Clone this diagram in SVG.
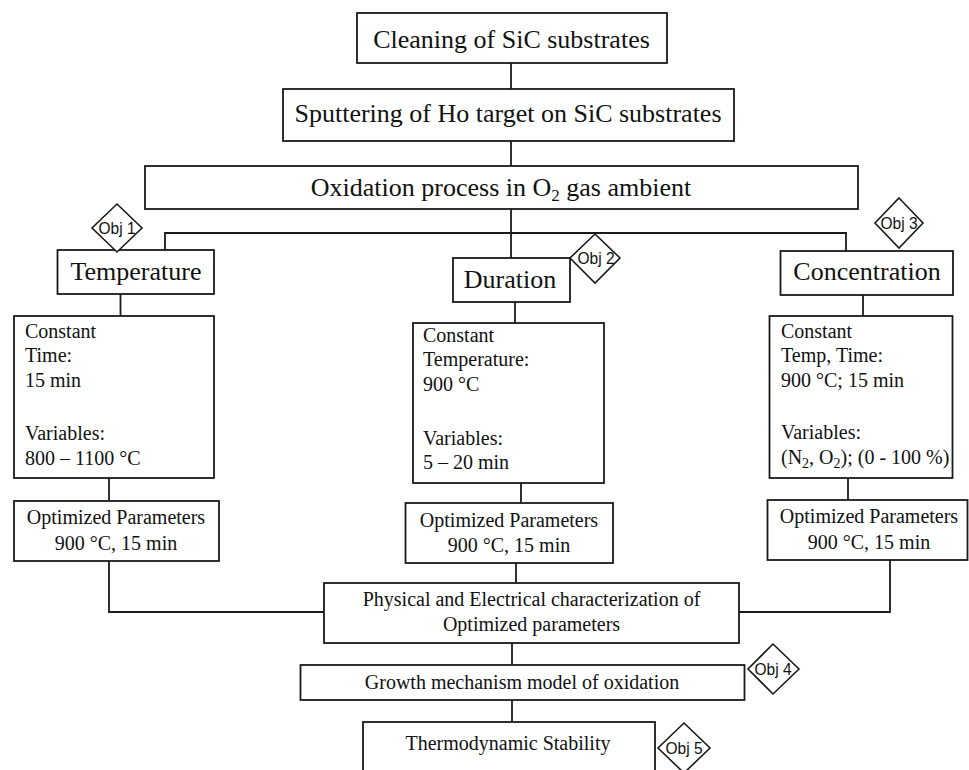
<svg xmlns="http://www.w3.org/2000/svg" width="969" height="770" viewBox="0 0 969 770">
  <style>
    .box { fill: #ffffff; stroke: #1a1a1a; stroke-width: 1.8; }
    .obj { fill: #ffffff; stroke: #1a1a1a; stroke-width: 1.6; }
    .wire { fill: none; stroke: #1a1a1a; stroke-width: 1.8; }
    .head { font-family: "Liberation Serif", "Times New Roman", serif; font-size: 26px; fill: #111; text-anchor: middle; }
    .body { font-family: "Liberation Serif", "Times New Roman", serif; font-size: 20px; fill: #111; }
    .mid { text-anchor: middle; }
    .tag { font-family: "Liberation Sans", Arial, sans-serif; font-size: 16px; fill: #111; text-anchor: middle; }
  </style>

  <rect width="969" height="770" fill="#ffffff"/>

  <!-- connectors -->
  <g id="connectors">
    <line class="wire" x1="511" y1="63" x2="511" y2="89"/>
    <line class="wire" x1="511" y1="141" x2="511" y2="166"/>
    <line class="wire" x1="511" y1="209" x2="511" y2="258"/>
    <polyline class="wire" points="165,250 165,233 846,233 846,251"/>
    <line class="wire" x1="120.5" y1="294" x2="120.5" y2="316"/>
    <line class="wire" x1="109" y1="478" x2="109" y2="501"/>
    <line class="wire" x1="515" y1="302" x2="515" y2="323"/>
    <line class="wire" x1="521" y1="483" x2="521" y2="503"/>
    <line class="wire" x1="863" y1="295" x2="863" y2="316"/>
    <line class="wire" x1="848" y1="478" x2="848" y2="500"/>
    <polyline class="wire" points="109,561 109,612 324,612"/>
    <polyline class="wire" points="890,560 890,612 739,612"/>
    <line class="wire" x1="516" y1="563" x2="516" y2="583"/>
    <line class="wire" x1="512" y1="643" x2="512" y2="665"/>
    <line class="wire" x1="512" y1="700" x2="512" y2="722"/>
  </g>

  <!-- main process chain -->
  <g id="cleaning">
    <rect class="box" x="357" y="13" width="310" height="50"/>
    <text class="head" x="511.5" y="48">Cleaning of SiC substrates</text>
  </g>
  <g id="sputtering">
    <rect class="box" x="283" y="89" width="451" height="52"/>
    <text class="head" x="508" y="122">Sputtering of Ho target on SiC substrates</text>
  </g>
  <g id="oxidation">
    <rect class="box" x="145" y="166" width="713" height="43"/>
    <text class="head" x="501" y="196">Oxidation process in O<tspan font-size="17" dy="5">2</tspan><tspan dy="-5"> gas ambient</tspan></text>
  </g>

  <!-- temperature branch -->
  <g id="temperature">
    <rect class="box" x="57.5" y="250" width="156.5" height="44"/>
    <text class="head" x="136" y="280">Temperature</text>
  </g>
  <g id="temperature-settings">
    <rect class="box" x="14" y="316" width="200" height="162"/>
    <text class="body" x="25" y="338">Constant</text>
    <text class="body" x="25" y="362">Time:</text>
    <text class="body" x="25" y="387">15 min</text>
    <text class="body" x="25" y="440">Variables:</text>
    <text class="body" x="25" y="465">800 – 1100 °C</text>
  </g>
  <g id="temperature-optimized">
    <rect class="box" x="14" y="501" width="205" height="60"/>
    <text class="body mid" x="116" y="524">Optimized Parameters</text>
    <text class="body mid" x="116" y="550">900 °C, 15 min</text>
  </g>

  <!-- duration branch -->
  <g id="duration">
    <rect class="box" x="453" y="258" width="117" height="44"/>
    <text class="head" x="510" y="288">Duration</text>
  </g>
  <g id="duration-settings">
    <rect class="box" x="413" y="323" width="191" height="160"/>
    <text class="body" x="423" y="342">Constant</text>
    <text class="body" x="423" y="366">Temperature:</text>
    <text class="body" x="423" y="391">900 °C</text>
    <text class="body" x="423" y="445">Variables:</text>
    <text class="body" x="423" y="469">5 – 20 min</text>
  </g>
  <g id="duration-optimized">
    <rect class="box" x="405.5" y="503" width="207.5" height="60"/>
    <text class="body mid" x="509" y="527">Optimized Parameters</text>
    <text class="body mid" x="509" y="552">900 °C, 15 min</text>
  </g>

  <!-- concentration branch -->
  <g id="concentration">
    <rect class="box" x="780.5" y="251" width="172.5" height="44"/>
    <text class="head" x="867" y="280">Concentration</text>
  </g>
  <g id="concentration-settings">
    <rect class="box" x="769.5" y="316" width="183" height="162"/>
    <text class="body" x="781" y="338">Constant</text>
    <text class="body" x="781" y="362">Temp, Time:</text>
    <text class="body" x="781" y="387">900 °C; 15 min</text>
    <text class="body" x="781" y="439">Variables:</text>
    <text class="body" x="781" y="464">(N<tspan font-size="14" dy="4">2</tspan><tspan dy="-4">, O</tspan><tspan font-size="14" dy="4">2</tspan><tspan dy="-4">); (0 - 100 %)</tspan></text>
  </g>
  <g id="concentration-optimized">
    <rect class="box" x="767.5" y="500" width="200" height="60"/>
    <text class="body mid" x="869" y="523">Optimized Parameters</text>
    <text class="body mid" x="869" y="549">900 °C, 15 min</text>
  </g>

  <!-- characterization and modelling -->
  <g id="characterization">
    <rect class="box" x="324" y="583" width="415" height="60"/>
    <text class="body mid" x="531.5" y="606">Physical and Electrical characterization of</text>
    <text class="body mid" x="531.5" y="631">Optimized parameters</text>
  </g>
  <g id="growth-model">
    <rect class="box" x="300.5" y="665" width="444" height="35"/>
    <text class="body mid" x="522" y="689">Growth mechanism model of oxidation</text>
  </g>
  <g id="thermodynamic">
    <rect class="box" x="363" y="722" width="292" height="70"/>
    <text class="body mid" x="508" y="750">Thermodynamic Stability</text>
  </g>

  <!-- objective markers -->
  <g id="obj1">
    <polygon class="obj" points="117,204 142,228 117,252 92,228"/>
    <text class="tag" x="117" y="234" textLength="37" lengthAdjust="spacingAndGlyphs">Obj 1</text>
  </g>
  <g id="obj2">
    <polygon class="obj" points="595,234 620,258 595,283 570,258"/>
    <text class="tag" x="596" y="264" textLength="37" lengthAdjust="spacingAndGlyphs">Obj 2</text>
  </g>
  <g id="obj3">
    <polygon class="obj" points="899,198 923,223 899,248 875,223"/>
    <text class="tag" x="899" y="229" textLength="37" lengthAdjust="spacingAndGlyphs">Obj 3</text>
  </g>
  <g id="obj4">
    <polygon class="obj" points="773,644 799,669 773,694 748,669"/>
    <text class="tag" x="773" y="675" textLength="37" lengthAdjust="spacingAndGlyphs">Obj 4</text>
  </g>
  <g id="obj5">
    <polygon class="obj" points="684,723 710,748 684,773 658,748"/>
    <text class="tag" x="684" y="754" textLength="37" lengthAdjust="spacingAndGlyphs">Obj 5</text>
  </g>
</svg>
